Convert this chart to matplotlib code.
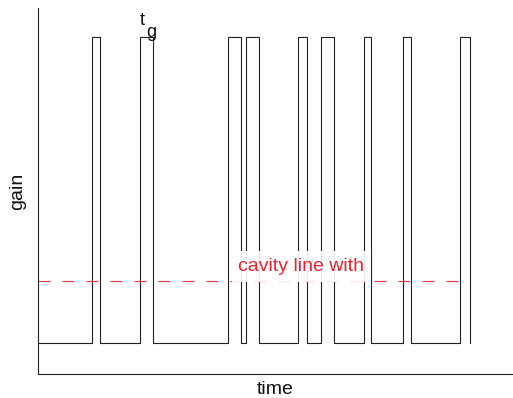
import matplotlib
matplotlib.use("Agg")
import matplotlib.pyplot as plt

# Data (arbitrary units)
edge_times = [0.0, 11.4, 13.1, 21.6, 24.3, 40.2, 42.8, 44.0, 46.6, 54.9, 56.8,
              59.7, 62.5, 68.9, 70.3, 77.0, 78.8, 89.0, 91.2]
gain_low = 0.085
gain_high = 0.92
gain_levels = [gain_low] + [gain_high, gain_low] * 9
cavity_level = 0.253
cavity_label = "cavity line with"
tg_main = "t"
tg_sub = "g"
x_label = "time"
y_label = "gain"

plt.rcParams['font.family'] = ['Liberation Sans', 'DejaVu Sans']

fig = plt.figure(figsize=(5.13, 3.98), dpi=100)
ax = fig.add_axes([0.0735, 0.0603, 0.9245, 0.9196])

ax.step(edge_times, gain_levels, where='post', color='#222222', lw=0.8, zorder=2)
ax.plot([edge_times[0], edge_times[-1]], [cavity_level, cavity_level],
        color='#e8333a', lw=0.8, dashes=(10.8, 10.8), zorder=2)

ax.text(55.6, 0.293, cavity_label, color='#e8242e', fontsize=14,
        ha='center', va='center', zorder=5,
        bbox=dict(boxstyle='square,pad=0.35', facecolor='white', edgecolor='none', alpha=0.9))
ax.text(21.6, 0.988, tg_main, color='#111111', fontsize=13, ha='left', va='top')
ax.text(22.9, 0.956, tg_sub, color='#111111', fontsize=13, ha='left', va='top')

ax.set_xlim(0, 100)
ax.set_ylim(0, 1)
ax.set_xticks([])
ax.set_yticks([])
for s in ['top', 'right']:
    ax.spines[s].set_visible(False)
for s in ['left', 'bottom']:
    ax.spines[s].set_linewidth(0.8)
    ax.spines[s].set_color('#222222')
ax.set_xlabel(x_label, fontsize=14, color='#111111', labelpad=5)
ax.set_ylabel(y_label, fontsize=14, color='#111111', labelpad=8)

fig.savefig("out.png", dpi=100)
